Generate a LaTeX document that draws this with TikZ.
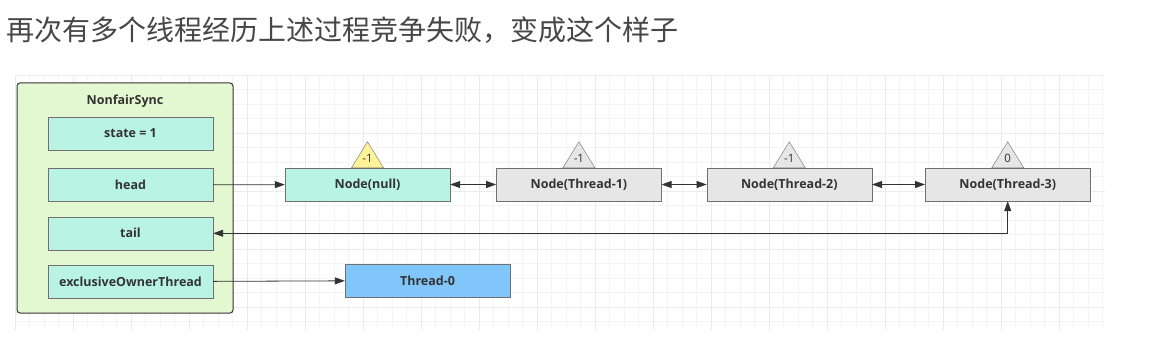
\documentclass[tikz,border=0pt]{standalone}
\usepackage{fontspec}
\setsansfont{Open Sans}
\newfontfamily\cjk{Noto Sans CJK SC}
\usepackage{xcolor}
\usetikzlibrary{arrows.meta,positioning}

\definecolor{syncgreen}{HTML}{E3F8D0}
\definecolor{fieldaqua}{HTML}{B8F3E4}
\definecolor{nodegray}{HTML}{E6E6E6}
\definecolor{threadblue}{HTML}{80C6FA}
\definecolor{waityellow}{HTML}{FFF39A}
\definecolor{inkgray}{HTML}{333333}

\begin{document}
\begin{tikzpicture}[
    x=1pt, y=-1pt,
    node distance=15pt,
    field/.style={draw=inkgray!70, fill=fieldaqua, minimum width=165pt,
    minimum height=33pt, inner sep=0pt, font=\sffamily\bfseries\fontsize{12.5}{14}\selectfont,
    text=inkgray},
    qnode/.style={field, fill=nodegray},
    arr/.style={-{Triangle[length=10pt,width=7pt]}, draw=inkgray, line width=0.8pt},
    darr/.style={{Triangle[length=10pt,width=7pt]}-{Triangle[length=10pt,width=7pt]},
    draw=inkgray, line width=0.8pt}
]
\useasboundingbox[fill=white] (0,0) rectangle (1166,352);
% background grid
\foreach \gx in {0,...,75}
  \draw[gray!9] (15+14.5*\gx,75) -- (15+14.5*\gx,330);
\foreach \gy in {0,...,17}
  \draw[gray!9] (15,75+14.5*\gy) -- (1105,75+14.5*\gy);
\foreach \gx in {0,...,18}
  \draw[gray!16] (15+58*\gx,75) -- (15+58*\gx,330);
\foreach \gy in {0,...,4}
  \draw[gray!16] (15,75+58*\gy) -- (1105,75+58*\gy);

\node[anchor=west, font=\cjk\fontsize{28}{30}\selectfont, text=inkgray!90,
inner sep=0pt] (title) at (6,30) {再次有多个线程经历上述过程竞争失败，变成这个样子};

% NonfairSync
\node[draw=inkgray, line width=1pt, rounded corners=3pt, fill=syncgreen,
minimum width=216pt, minimum height=230pt] (sync) at (125,198) {};
\node[font=\sffamily\bfseries\fontsize{12.5}{14}\selectfont, text=inkgray]
(syncname) at (125,101) {NonfairSync};
\node[field] (state) at (130.5,133.5) {state = 1};
\node[field, below=18pt of state] (head) {head};
\node[field, below=of head] (tail) {tail};
\node[field, below=of tail] (owner) {exclusiveOwnerThread};

% wait queue
\node[field] (n0) at (367.5,184.5) {Node(null)};
\node[qnode, right=46pt of n0] (n1) {Node(Thread-1)};
\node[qnode, right=45pt of n1] (n2) {Node(Thread-2)};
\node[qnode, right=53pt of n2] (n3) {Node(Thread-3)};
\node[field, fill=threadblue] (t0) at (427.5,280.5) {Thread-0};

% waitStatus marks
\foreach \n/\c/\v in {n0/waityellow/-1, n1/nodegray/-1, n2/nodegray/-1, n3/nodegray/0}{
  \draw[draw=inkgray!70, fill=\c] ([xshift=-16pt]\n.north) -- ([yshift=26pt]\n.north)
    -- ([xshift=16pt]\n.north) -- cycle;
  \node[font=\sffamily\fontsize{11.5}{13}\selectfont, text=inkgray, inner sep=0pt]
    at ([yshift=9pt]\n.north) {\v};
}

\draw[arr] (head) -- (n0);
\draw[darr] (n0) -- (n1);
\draw[darr] (n1) -- (n2);
\draw[darr] (n2) -- (n3);
\draw[darr] (tail.east) -| (n3.south);
\draw[arr] (owner) -- (t0);
\end{tikzpicture}
\end{document}
